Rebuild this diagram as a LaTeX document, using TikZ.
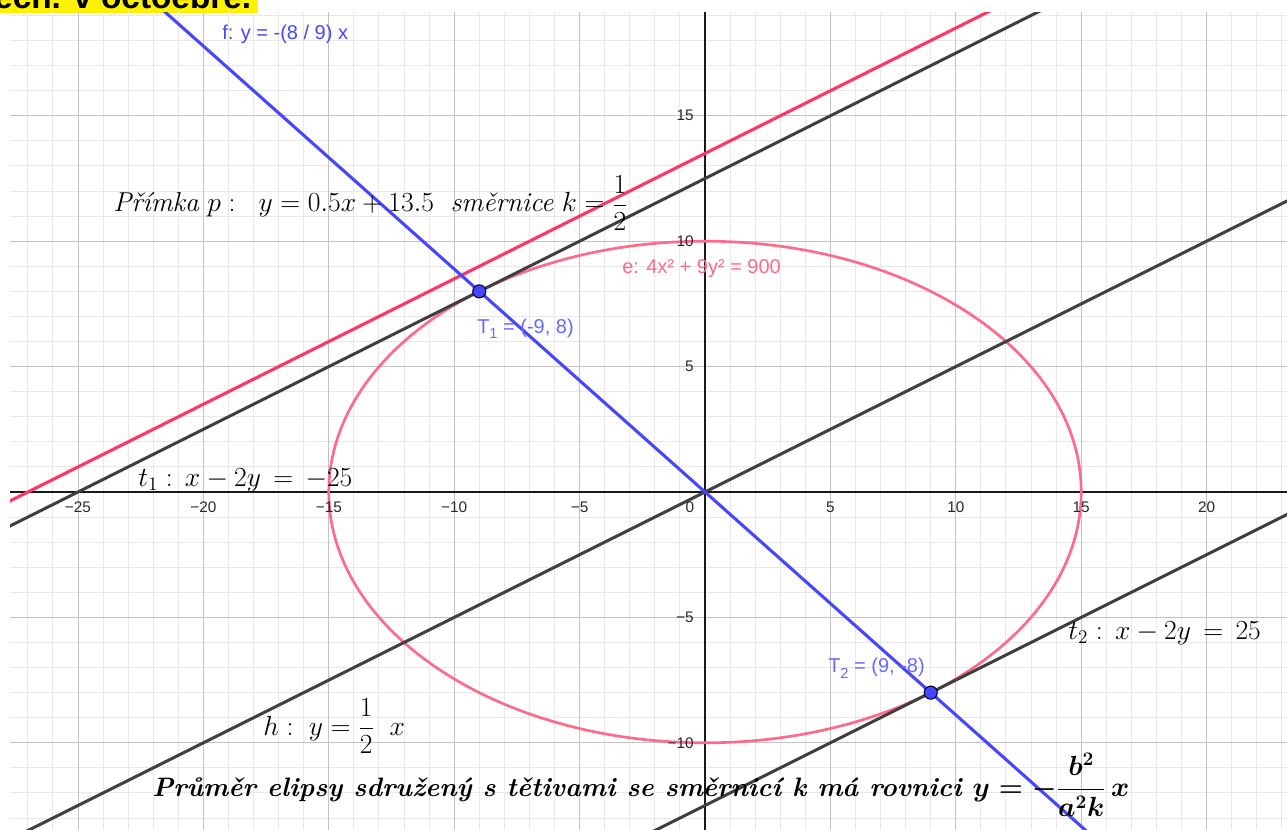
\documentclass[tikz,border=0pt]{standalone}
\usepackage{fontspec}
\usepackage{amsmath}
\newfontfamily\ggb{Liberation Sans}
\definecolor{fblue}{RGB}{70,70,255}
\definecolor{tblue}{RGB}{105,105,255}
\definecolor{pred}{RGB}{255,55,100}
\definecolor{epink}{RGB}{255,105,140}
\definecolor{dline}{RGB}{64,64,64}
\definecolor{gminor}{RGB}{232,232,232}
\definecolor{gmajor}{RGB}{195,195,195}
\definecolor{ticktext}{RGB}{40,40,40}
\tikzset{
  minorgrid/.style={draw=gminor, line width=0.75pt},
  majorgrid/.style={draw=gmajor, line width=0.75pt},
  axisline/.style={draw=black!90, line width=0.9pt},
  darkline/.style={draw=dline, line width=2.3pt},
  redline/.style={draw=pred, line width=2.3pt},
  blueline/.style={draw=fblue, line width=2.3pt},
  ellline/.style={draw=epink, line width=2pt},
  ptmark/.style={circle, fill=fblue, draw=black!80!blue, line width=0.8pt, minimum size=9.8pt, inner sep=0pt},
  ticklbl/.style={font=\ggb\fontsize{11.5}{12}\selectfont, text=ticktext, inner sep=0pt},
  ggblbl/.style={font=\ggb\fontsize{15}{17}\selectfont, inner sep=0pt, anchor=base west},
  ltx/.style={font=\fontsize{20.5}{24}\selectfont, text=black, inner sep=0pt, anchor=base west}
}
\begin{document}
\begin{tikzpicture}[x=0.75pt,y=-0.75pt]
\useasboundingbox (0,0) rectangle (1287,830);
\fill[white] (0,0) rectangle (1287,830);
% yellow title box (cut at top)
\begin{scope}
  \clip (0,0) rectangle (258,13);
  \fill[yellow] (0,0) rectangle (258,13);
  \node[font=\ggb\bfseries\fontsize{25}{27}\selectfont, anchor=base west, inner sep=0pt] (title) at (-6,8.5) {ech. v octoebre.};
\end{scope}
\begin{scope}
\clip (10,13) rectangle (1287,830);
\begin{scope}[shift={(528.75pt,-369pt)},x=18.81pt,y=18.81pt]
  \foreach \i in {-28,...,24} \draw[minorgrid] (\i,-14) -- (\i,20);
  \foreach \j in {-14,...,20} \draw[minorgrid] (-28,\j) -- (24,\j);
  \foreach \i in {-25,-20,...,20} \draw[majorgrid] (\i,-14) -- (\i,20);
  \foreach \j in {-10,-5,...,15} \draw[majorgrid] (-28,\j) -- (24,\j);
  \draw[axisline] (-28,0) -- (24,0);
  \draw[axisline] (0,-14) -- (0,20);
  % ellipse e
  \draw[ellline] (0,0) ellipse [x radius=15, y radius=10];
  % line p
  \coordinate (pA) at (-28,-0.5); \coordinate (pB) at (24,25.5);
  \draw[redline] (pA) -- (pB);
  % tangents and diameter
  \coordinate (t1A) at (-28,-1.5); \coordinate (t1B) at (24,24.5);
  \draw[darkline] (t1A) -- (t1B);
  \coordinate (hA) at (-28,-14); \coordinate (hB) at (24,12);
  \draw[darkline] (hA) -- (hB);
  \coordinate (t2A) at (-28,-26.5); \coordinate (t2B) at (24,-0.5);
  \draw[darkline] (t2A) -- (t2B);
  % line f
  \coordinate (fA) at (-28,24.889); \coordinate (fB) at (24,-21.333);
  \draw[blueline] (fA) -- (fB);
  \node[ptmark] (T1) at (-9,8) {};
  \node[ptmark] (T2) at (9,-8) {};
\end{scope}
\end{scope}
% axis tick labels
\foreach \n/\t in {-25/−25,-20/−20,-15/−15,-10/−10,-5/−5,5/5,10/10,15/15,20/20}
  \node[ticklbl] (xl\n) at ({705+25.08*\n},507) {\t};
\node[ticklbl] (xl0) at (690,507) {0};
\foreach \m/\t in {15/15,10/10,5/5,-5/−5,-10/−10}
  \node[ticklbl, anchor=east] (yl\m) at (694,{492-25.08*\m}) {\t};
% GeoGebra labels
\node[ggblbl, text=fblue] (flbl) at (222,40) {f: y = -(8 / 9) x};
\node[ggblbl, text=epink] (elbl) at (622,274) {e: 4x² + 9y² = 900};
\node[ggblbl, text=tblue] (T1lbl) at (477,333) {T\raisebox{-0.3em}{\fontsize{11}{12}\selectfont 1} = (-9, 8)};
\node[ggblbl, text=tblue] (T2lbl) at (828,672) {T\raisebox{-0.3em}{\fontsize{11}{12}\selectfont 2} = (9, -8)};
% LaTeX labels
\node[ltx] (plbl) at (113,212) {\textit{Přímka} $p:\;\; y = 0.5x+13.5$\ \ \textit{směrnice} $k=\dfrac{1}{2}$};
\node[ltx] (t1lbl) at (138,486) {$t_1 :\, x-2y \,=\, -25$};
\node[ltx] (t2lbl) at (1068,639) {$t_2 :\, x-2y \,=\, 25$};
\node[ltx] (hlbl) at (263,735) {$h:\; y=\dfrac{1}{2}\;\;x$};
\node[ltx, font=\fontsize{20}{24}\selectfont] (botlbl) at (152,796) {\bfseries\itshape Průměr elipsy sdružený s tětivami se směrnicí k má rovnici {\boldmath$y=-\dfrac{b^2}{a^2k}\,x$}};
\end{tikzpicture}
\end{document}
